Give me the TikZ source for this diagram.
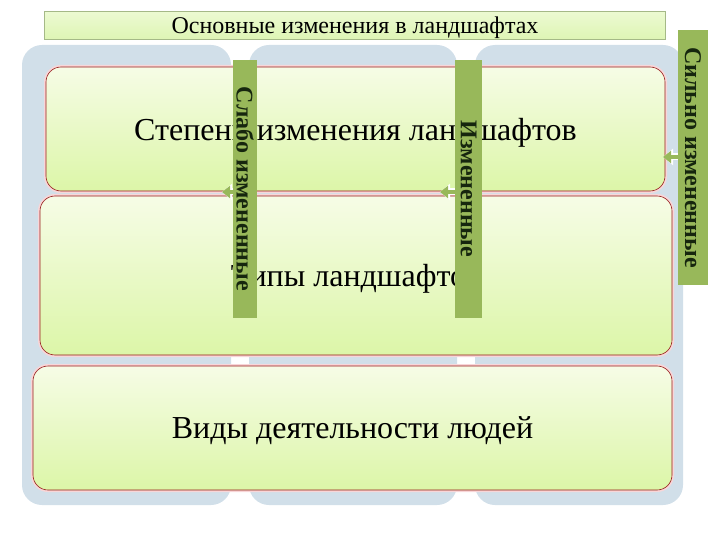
\documentclass[tikz,border=0pt]{standalone}
\usepackage{fontspec}
\setmainfont{Liberation Serif}
\usepackage{graphicx}
\usetikzlibrary{arrows.meta}
\definecolor{colblue}{RGB}{209,223,233}
\definecolor{rowtop}{RGB}{246,252,230}
\definecolor{rowbot}{RGB}{220,246,168}
\definecolor{rowline}{RGB}{150,25,25}
\definecolor{rowglow}{RGB}{248,214,216}
\definecolor{barolive}{RGB}{152,184,90}
\definecolor{bartext}{RGB}{22,38,14}
\definecolor{titleline}{RGB}{165,185,135}
\definecolor{titletop}{RGB}{236,250,210}
\definecolor{titlebot}{RGB}{222,245,180}

\begin{document}
\begin{tikzpicture}[x=1pt,y=-1pt,
        column/.style={fill=colblue,rounded corners=20pt},
        row/.style={draw=rowline,line width=0.6pt,rounded corners=15pt,top color=rowtop,bottom color=rowbot,
            preaction={draw=rowglow,line width=4pt},font=\fontsize{32}{38}\selectfont,text=black,text depth=0pt},
        bar/.style={fill=barolive,inner sep=0pt,font=\bfseries\fontsize{24}{28}\selectfont,text=bartext},
        halo/.style={white,line width=7pt,-{Triangle[length=10pt,width=16pt]}},
        pointer/.style={barolive,line width=4pt,-{Triangle[length=8pt,width=12pt]}}]
        \useasboundingbox (0,0) rectangle (720,540);
        \fill[column] (22,45) rectangle (231,505);
        \fill[column] (249,45) rectangle (457,505);
        \fill[column] (475,45) rectangle (683,505);
        \node[draw=titleline,top color=titletop,bottom color=titlebot,minimum width=621pt,minimum height=28pt,
            text depth=0pt,font=\fontsize{24}{28}\selectfont] (title) at (355,25.5) {Основные изменения в ландшафтах};
        \node[row,minimum width=619pt,minimum height=124pt] (degree) at (355.5,129) {Степени изменения ландшафтов};
        \node[row,minimum width=632pt,minimum height=159pt] (types) at (356,275.5) {Типы ландшафтов};
        \node[row,minimum width=639pt,minimum height=124pt] (activity) at (352.5,428) {Виды деятельности людей};
        \node[bar,minimum width=24pt,minimum height=258pt] (weak) at (245,189) {\rotatebox{-90}{Слабо измененные}};
        \node[bar,minimum width=27pt,minimum height=258pt] (changed) at (468.5,189) {\rotatebox{-90}{Измененные}};
        \node[bar,minimum width=30pt,minimum height=255pt] (strong) at (693,157.5) {\rotatebox{-90}{Сильно измененные}};
        \coordinate (tipweak) at (222,192);
        \coordinate (tipchanged) at (440,192);
        \coordinate (tipstrong) at (663,157);
        \foreach \b/\t in {weak/tipweak,changed/tipchanged,strong/tipstrong}{
            \draw[halo] (\b.west |- \t) -- (\t);
            \draw[pointer] (\b.west |- \t) -- (\t);
        }
\end{tikzpicture}
\end{document}
